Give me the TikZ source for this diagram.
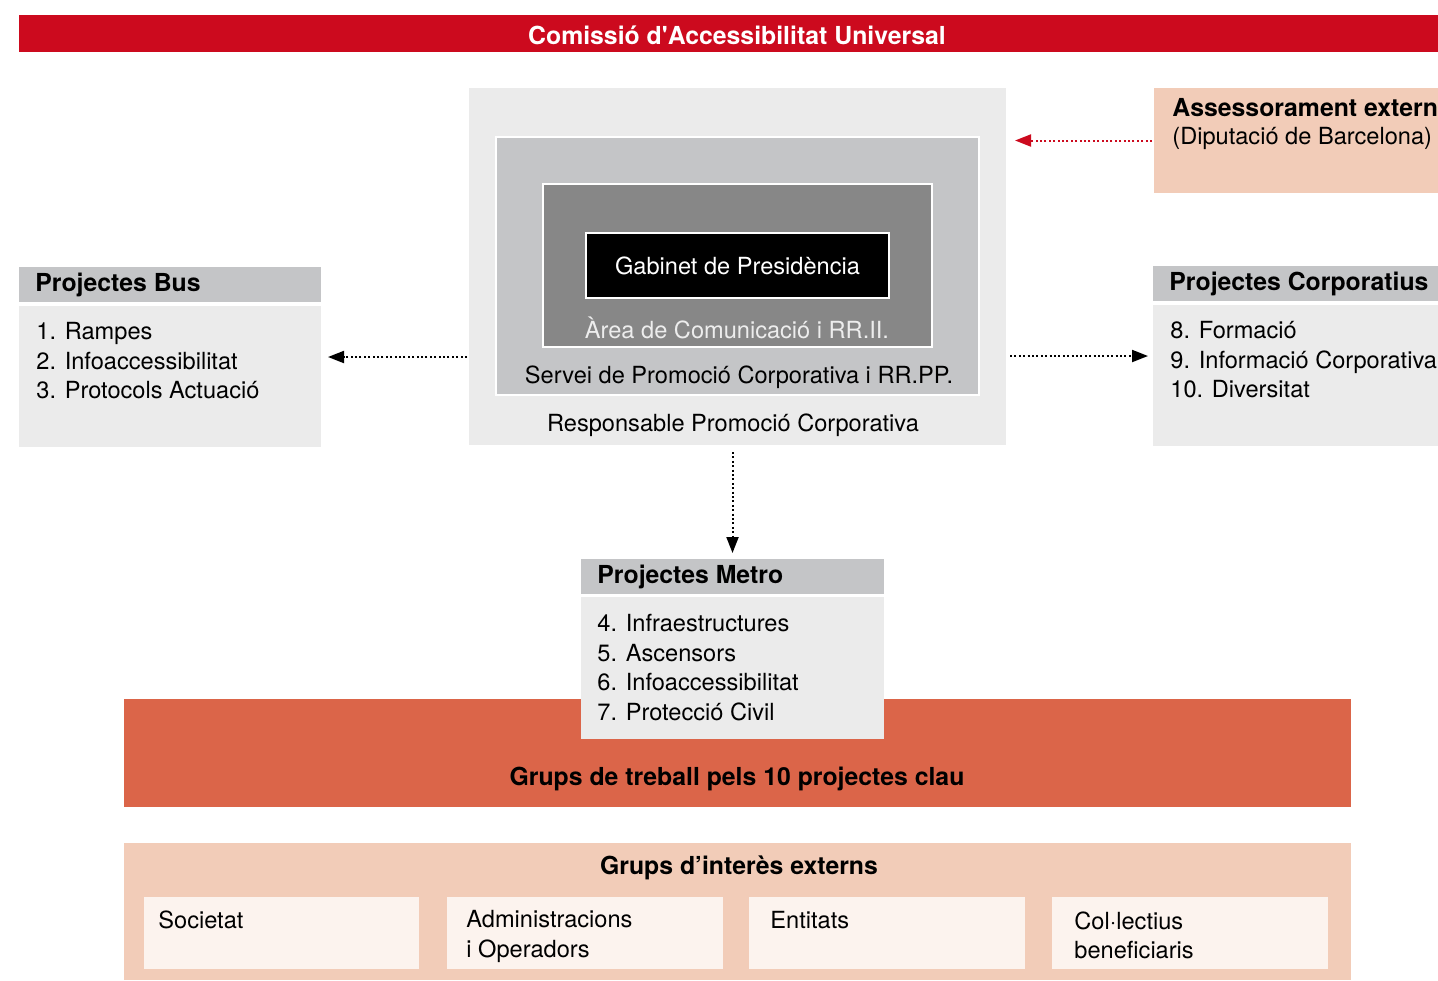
\documentclass[tikz,border=0pt]{standalone}
\usepackage{fontspec}
\setmainfont{TeX Gyre Heros}
\usetikzlibrary{arrows.meta,fit,positioning}
\definecolor{vermell}{HTML}{CC0A1E}
\definecolor{grisclar}{HTML}{EBEBEB}
\definecolor{grismig}{HTML}{C4C5C7}
\definecolor{grisfosc}{HTML}{878787}
\definecolor{salmo}{HTML}{F2CCB8}
\definecolor{taronja}{HTML}{DB6549}
\definecolor{crema}{HTML}{FCF3EE}
\begin{document}
\begin{tikzpicture}[x=0.5pt,y=-0.5pt,>={Triangle[length=8pt,width=6pt]},
	caixa/.style={inner sep=0pt,outer sep=0pt},
	txt/.style={inner sep=0pt,font=\fontsize{11.8}{14.75}\selectfont},
	titol/.style={inner sep=0pt,font=\bfseries\fontsize{12.4}{14}\selectfont},
	fletxa/.style={->,line width=1pt,dash pattern=on 1pt off 1.2pt}]
				\useasboundingbox (0,0) rectangle (1438,980);
				% comissio
				\node[caixa,fit={(19,15) (1438,52)},fill=vermell] (comissio) {};
				\node[titol,text=white] at (737,35) {Comissió d\textquotesingle Accessibilitat Universal};
				% bloc central
				\node[caixa,fit={(469,88) (1006,445)},fill=grisclar] (resp) {};
				\node[caixa,fit={(496,137) (979,395)},fill=grismig,draw=white,line width=0.7pt] (servei) {};
				\node[caixa,fit={(543,184) (932,347)},fill=grisfosc,draw=white,line width=0.7pt] (area) {};
				\node[caixa,fit={(586,233) (889,298)},fill=black,draw=white,line width=0.7pt] (gabinet) {};
				\node[txt,text=white] at (gabinet) {Gabinet de Presidència};
				\node[txt,text=white!93!black] at (737,328) {Àrea de Comunicació i RR.II.};
				\node[txt] at (739,377) {Servei de Promoció Corporativa i RR.PP.};
				\node[txt] at (733,425) {Responsable Promoció Corporativa};
				% assessorament
				\node[caixa,fit={(1154,88) (1438,193)},fill=salmo] (assess) {};
				\node[titol,anchor=west] at (1172,108) {Assessorament extern};
				\node[txt,anchor=west] at (1172,138) {(Diputació de Barcelona)};
				% projectes bus
				\node[caixa,fit={(19,267) (321,302)},fill=grismig] (bushead) {};
				\node[caixa,fit={(19,306) (321,447)},fill=grisclar] (buscos) {};
				\node[caixa,fit=(bushead) (buscos)] (bus) {};
				\node[titol,anchor=west] at (35,285) {Projectes Bus};
				\node[txt,anchor=west,align=left] at (36,361) {1. Rampes\\2. Infoaccessibilitat\\3. Protocols Actuació};
				% projectes corporatius
				\node[caixa,fit={(1153,266) (1438,301)},fill=grismig] (corphead) {};
				\node[caixa,fit={(1153,305) (1438,446)},fill=grisclar] (corpcos) {};
				\node[caixa,fit=(corphead) (corpcos)] (corp) {};
				\node[titol,anchor=west] at (1169,284) {Projectes Corporatius};
				\node[txt,anchor=west,align=left] at (1170,360) {8. Formació\\9. Informació Corporativa\\10. Diversitat};
				% grups de treball
				\node[caixa,fit={(124,699) (1351,807)},fill=taronja] (treball) {};
				\node[titol] at (737,779) {Grups de treball pels 10 projectes clau};
				% projectes metro
				\node[caixa,fit={(581,559) (884,594)},fill=grismig] (metrohead) {};
				\node[caixa,fit={(581,597) (884,739)},fill=grisclar] (metrocos) {};
				\node[caixa,fit=(metrohead) (metrocos)] (metro) {};
				\node[titol,anchor=west] at (597,577) {Projectes Metro};
				\node[txt,anchor=west,align=left] at (597,667.5) {4. Infraestructures\\5. Ascensors\\6. Infoaccessibilitat\\7. Protecció Civil};
				% grups d'interes
				\node[caixa,fit={(124,843) (1351,980)},fill=salmo] (externs) {};
				\node[titol] at (739,868) {Grups d’interès externs};
				\node[caixa,fit={(144,897) (419,969)},fill=crema] (societat) {};
				\node[caixa,fit={(447,897) (723,969)},fill=crema] (admin) {};
				\node[caixa,fit={(749,897) (1025,969)},fill=crema] (entitats) {};
				\node[caixa,fit={(1052,897) (1328,969)},fill=crema] (collectius) {};
				\node[txt,anchor=west] at (158,920) {Societat};
				\node[txt,anchor=west,align=left] at (466,936.5) {Administracions\\i Operadors};
				\node[txt,anchor=west] at (770,920) {Entitats};
				\node[txt,anchor=west,align=left] at (1074,935.5) {Col·lectius\\beneficiaris};
				% fletxes
				\draw[fletxa,shorten <=1pt,shorten >=3.5pt] (resp.west |- bus.east) -- (bus.east);
				\draw[fletxa,shorten <=2pt,shorten >=2.5pt] (resp.east |- corp.west) -- (corp.west);
				\draw[fletxa,shorten <=3.5pt,shorten >=3pt] (metro.north |- resp.south) -- (metro.north);
				\draw[fletxa,color=vermell,shorten <=1pt,shorten >=4.5pt] (assess.west) -- (resp.east |- assess.west);
			\end{tikzpicture}
\end{document}
